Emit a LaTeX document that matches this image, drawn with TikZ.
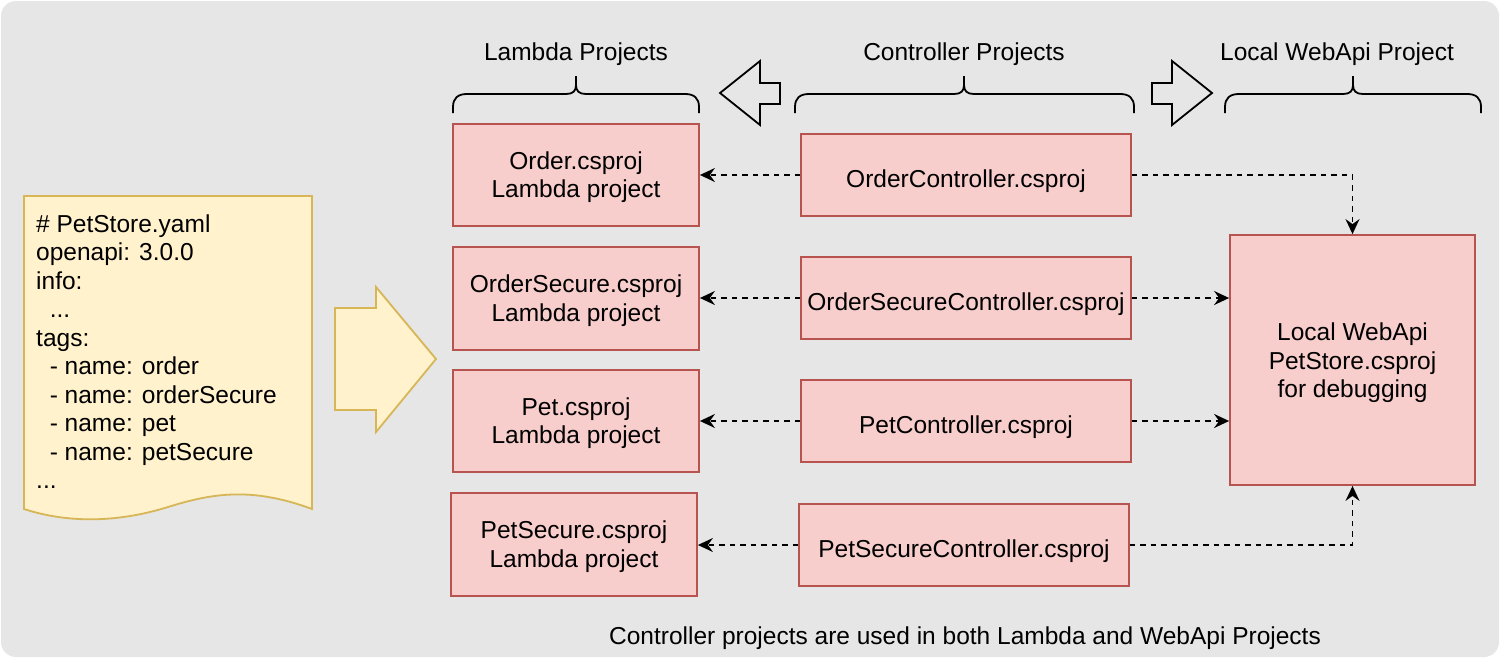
\documentclass[tikz,border=0pt]{standalone}
\usepackage{fontspec}
\setmainfont{Liberation Sans}
\usetikzlibrary{arrows.meta}
\definecolor{bgc}{HTML}{E6E6E6}
\definecolor{redfill}{HTML}{F8CECC}
\definecolor{reddraw}{HTML}{B85450}
\definecolor{yelfill}{HTML}{FFF2CC}
\definecolor{yeldraw}{HTML}{D6B656}
\newcommand\mydots{...}
\newcommand\twolines[2]{\raisebox{0pt}[25.65pt][37.05pt]{\begin{tabular}[t]{@{}c@{}}#1\\#2\end{tabular}}}
\newcommand\threelines[3]{\raisebox{0pt}[26.95pt][65.55pt]{\begin{tabular}[t]{@{}c@{}}#1\\#2\\#3\end{tabular}}}
\begin{document}
\begin{tikzpicture}[x=1pt,y=-1pt,
  every node/.style={font=\fontsize{24.5}{28.5}\selectfont, inner sep=0pt},
  redbox/.style={draw=reddraw, fill=redfill, line width=1.8pt},
  lambdabox/.style={redbox, minimum width=246pt, minimum height=102pt},
  ctrlbox/.style={redbox, minimum width=330pt, minimum height=82pt, execute at begin node={\rule{0pt}{30pt}}},
  webbox/.style={redbox, minimum width=245pt, minimum height=250pt},
  conn/.style={line width=1.8pt, dash pattern=on 5.5pt off 5pt, -{Stealth[length=15pt,width=14pt,inset=5pt]}},
  hollow/.style={draw=black, line width=1.8pt, line join=miter},
  bracestyle/.style={draw=black, line width=1.8pt},
  doctxt/.style={anchor=base west},
  yel/.style={draw=yeldraw, fill=yelfill, line width=1.8pt}
]
\useasboundingbox (0,0) rectangle (1501,659);
\fill[bgc, rounded corners=15pt] (1,1) rectangle (1499,657);

% document shape
\path[yel] (24,196) -- (312,196) -- (312,509)
  .. controls (250,486) and (210,494) .. (168,507)
  .. controls (120,522) and (70,524) .. (24,509) -- cycle;
\node[doctxt] (dl1) at (36,232) {\# PetStore.yaml};
\node[doctxt] (dl2) at (36,260.5) {openapi: 3.0.0};
\node[doctxt] (dl3) at (36,289) {info:};
\node[doctxt] (dl4) at (49.6,317.5) {\mydots};
\node[doctxt] (dl5) at (36,346) {tags:};
\node[doctxt] (dl6) at (49.6,374.5) {- name: order};
\node[doctxt] (dl7) at (49.6,403) {- name: orderSecure};
\node[doctxt] (dl8) at (49.6,431.5) {- name: pet};
\node[doctxt] (dl9) at (49.6,460) {- name: petSecure};
\node[doctxt] (dl10) at (36,488.5) {\mydots};

% big yellow arrow
\path[yel, line join=miter] (335,308) -- (376,308) -- (376,287) -- (436,359) -- (376,432) -- (376,410) -- (335,410) -- cycle;

% headers
\node[anchor=base] (hl) at (576,60) {Lambda Projects};
\node[anchor=base] (hc) at (964,60) {Controller Projects};
\node[anchor=base] (hw) at (1337,60) {Local WebApi Project};

% braces
\foreach \xa/\xm/\xb in {453/576/699, 795/964/1134, 1225/1353/1481}{
  \path[bracestyle] (\xa,113) -- (\xa,107) .. controls (\xa,98) and (\xa+5,94) .. (\xa+14,94)
    -- (\xm-10,94) .. controls (\xm-3,94) and (\xm,91) .. (\xm,85) -- (\xm,76)
    (\xm,85) .. controls (\xm,91) and (\xm+3,94) .. (\xm+10,94)
    -- (\xb-14,94) .. controls (\xb-5,94) and (\xb,98) .. (\xb,107) -- (\xb,113);
}

% hollow arrows
\path[hollow] (720,93) -- (760,61) -- (760,83) -- (780,83) -- (780,104) -- (760,104) -- (760,125) -- cycle;
\path[hollow] (1152,83) -- (1172,83) -- (1172,61) -- (1212,93) -- (1172,125) -- (1172,104) -- (1152,104) -- cycle;

% lambda boxes
\node[lambdabox] (order) at (576,175) {\twolines{Order.csproj}{Lambda project}};
\node[lambdabox, minimum height=103pt] (ordersec) at (576,298.5) {\twolines{OrderSecure.csproj}{Lambda project}};
\node[lambdabox] (pet) at (576,421) {\twolines{Pet.csproj}{Lambda project}};
\node[lambdabox, minimum height=103pt] (petsec) at (574,544.5) {\twolines{PetSecure.csproj}{Lambda project}};

% controller boxes
\node[ctrlbox] (oc) at (966,175) {OrderController.csproj};
\node[ctrlbox] (osc) at (966,298) {OrderSecureController.csproj};
\node[ctrlbox] (pc) at (966,421) {PetController.csproj};
\node[ctrlbox] (psc) at (964,545) {PetSecureController.csproj};

% web api
\node[webbox] (web) at (1352.5,360) {\threelines{Local WebApi}{PetStore.csproj}{for debugging}};

% connectors
\draw[conn] (oc.west) -- (order.east);
\draw[conn] (osc.west) -- (osc.west -| ordersec.east);
\draw[conn] (pc.west) -- (pet.east);
\draw[conn] (psc.west) -- (psc.west -| petsec.east);
\draw[conn] (oc.east) -| (web.north);
\draw[conn] (osc.east) -- (osc.east -| web.west);
\draw[conn] (pc.east) -- (pc.east -| web.west);
\draw[conn] (psc.east) -| (web.south);

% footer
\node[anchor=base] (foot) at (965,644) {Controller projects are used in both Lambda and WebApi Projects};
\end{tikzpicture}
\end{document}
